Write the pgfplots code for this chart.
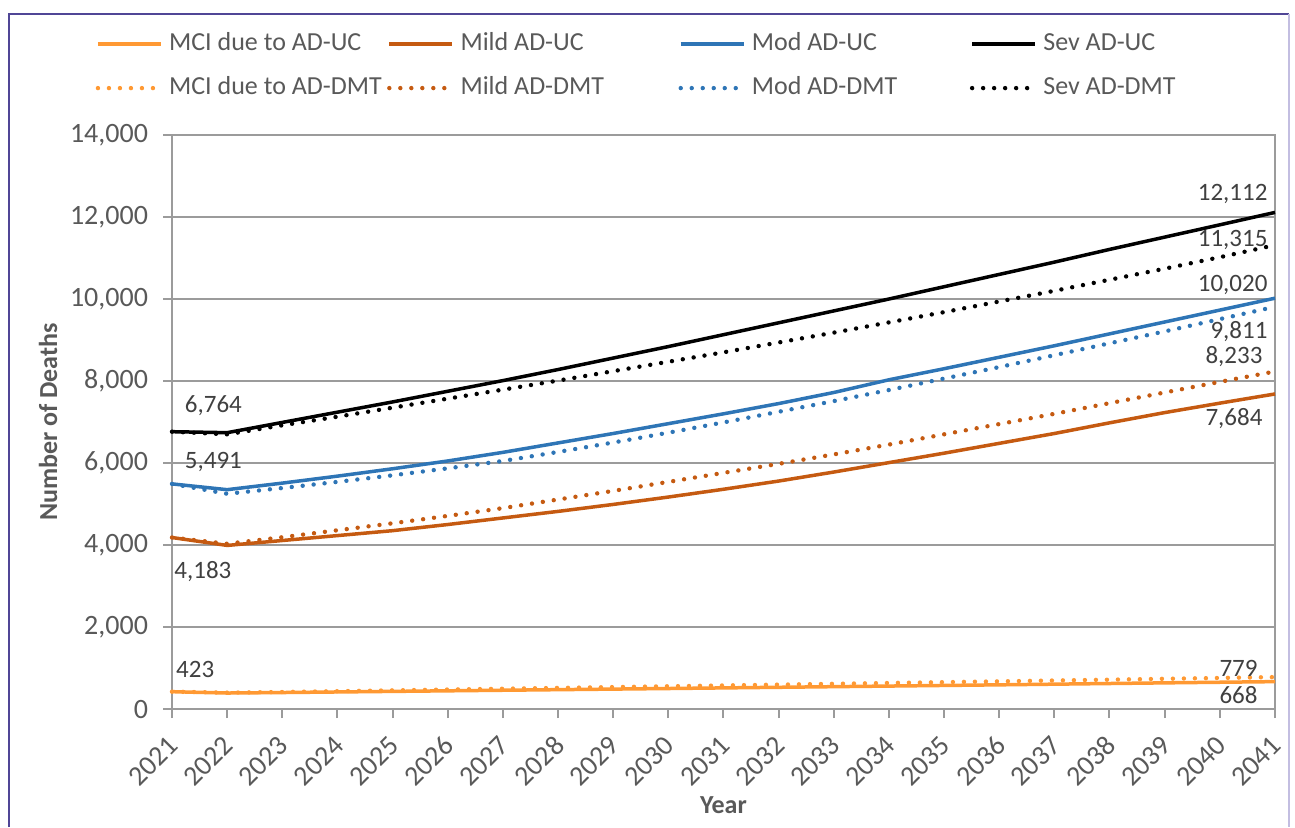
\documentclass[border=0pt]{standalone}
\usepackage{fontspec}
\setmainfont{Carlito}
\usepackage{pgfplots}
\usepackage{pgfplotstable}
\pgfplotsset{compat=1.18}
\definecolor{mci}{RGB}{255,153,51}
\definecolor{mild}{RGB}{197,90,17}
\definecolor{mod}{RGB}{46,117,182}
\definecolor{sev}{RGB}{0,0,0}
\definecolor{txtgray}{RGB}{89,89,89}
\definecolor{lblgray}{RGB}{64,64,64}
\definecolor{gridgray}{RGB}{155,155,155}
\definecolor{framec}{RGB}{80,70,150}
\definecolor{framel}{RGB}{195,190,225}
\pgfplotstableread{
year mciuc milduc moduc sevuc mcidmt milddmt moddmt sevdmt
2021 423 4183 5491 6764 423 4183 5491 6764
2022 390 3990 5350 6740 400 4030 5250 6700
2023 402 4110 5510 6990 415 4190 5390 6920
2024 416 4230 5680 7240 435 4360 5540 7130
2025 430 4350 5860 7490 455 4530 5700 7350
2026 444 4500 6050 7750 475 4710 5870 7570
2027 458 4660 6260 8010 495 4900 6050 7790
2028 472 4820 6490 8280 515 5110 6270 8010
2029 486 4990 6720 8560 535 5320 6500 8240
2030 500 5170 6960 8840 555 5540 6740 8470
2031 515 5360 7200 9130 575 5760 6990 8700
2032 530 5560 7450 9420 595 5980 7250 8940
2033 545 5780 7720 9710 615 6210 7510 9180
2034 560 6010 8030 10000 635 6450 7780 9430
2035 575 6240 8300 10300 655 6700 8060 9680
2036 590 6480 8580 10600 675 6950 8340 9940
2037 606 6720 8860 10900 696 7200 8630 10200
2038 622 6980 9150 11210 716 7460 8920 10470
2039 638 7230 9440 11510 737 7720 9210 10740
2040 653 7460 9730 11810 758 7980 9510 11020
2041 668 7684 10020 12112 779 8233 9811 11315
}\datatable
\newcommand{\legtxt}[1]{\hspace{3pt}\makebox[109pt][l]{#1}}
\begin{document}
\begin{tikzpicture}
\useasboundingbox (0pt,0pt) rectangle (647.5pt,-413.5pt);
\draw[framec, line width=0.6pt] (4.5pt,-413.5pt) -- (4.5pt,-7pt) -- (644.5pt,-7pt);
\draw[framel, line width=0.6pt] (644.5pt,-7pt) -- (644.5pt,-413.5pt);
\begin{axis}[
  at={(86pt,-354.5pt)}, anchor=south west,
  width=551.5pt, height=287pt, scale only axis,
  xmin=2021, xmax=2041, ymin=0, ymax=14000,
  xtick={2021,...,2041}, ytick={0,2000,...,14000},
  xticklabels={},
  xtick pos=bottom, ytick pos=left, tick align=outside,
  major tick length=4.5pt,
  every tick/.style={gridgray, line width=1pt},
  axis line style={gridgray, line width=1pt},
  ymajorgrids, grid style={gridgray, line width=1pt},
  /pgf/number format/assume math mode=true,
  y tick label style={/pgf/number format/1000 sep={,}, xshift=-4pt, font=\fontsize{14}{16}\selectfont, text=txtgray},
  scaled y ticks=false,
  xlabel={\textbf{Year}}, ylabel={\textbf{Number of Deaths}},
  xlabel style={at={(axis description cs:0.5,-0.167)}, anchor=center, font=\fontsize{13}{15}\selectfont, text=txtgray},
  ylabel style={at={(axis description cs:-0.1124,0.5)}, anchor=center, font=\fontsize{13}{15}\selectfont, text=txtgray},
  legend columns=4,
  legend cell align=left,
  legend style={draw=none, fill=none, at={(axis description cs:-0.0695,1.180)}, anchor=north west,
    font=\fontsize{13}{15}\selectfont, text=txtgray, inner sep=0pt,
    /tikz/column sep=0pt, /tikz/row sep=10pt,
    nodes={inner sep=0pt, text height=9pt, text depth=3pt}},
  legend image code/.code={\draw[#1] (0pt,0pt) -- (31.5pt,0pt);},
  clip=false,
  solidl/.style={line width=1.75pt},
  dotl/.style={line width=2.2pt, line cap=round, dash pattern=on 0pt off 5.5pt},
]
\addplot[solidl, mci] table[x=year,y=mciuc]{\datatable};
\addlegendentry{\legtxt{MCI due to AD-UC}}
\addplot[solidl, mild] table[x=year,y=milduc]{\datatable};
\addlegendentry{\legtxt{Mild AD-UC}}
\addplot[solidl, mod] table[x=year,y=moduc]{\datatable};
\addlegendentry{\legtxt{Mod AD-UC}}
\addplot[solidl, sev] table[x=year,y=sevuc]{\datatable};
\addlegendentry{\legtxt{Sev AD-UC}}
\addplot[dotl, mci] table[x=year,y=mcidmt]{\datatable};
\addlegendentry{\legtxt{MCI due to AD-DMT}}
\addplot[dotl, mild] table[x=year,y=milddmt]{\datatable};
\addlegendentry{\legtxt{Mild AD-DMT}}
\addplot[dotl, mod] table[x=year,y=moddmt]{\datatable};
\addlegendentry{\legtxt{Mod AD-DMT}}
\addplot[dotl, sev] table[x=year,y=sevdmt]{\datatable};
\addlegendentry{\legtxt{Sev AD-DMT}}
\pgfplotsinvokeforeach{2021,2022,2023,2024,2025,2026,2027,2028,2029,2030,2031,2032,2033,2034,2035,2036,2037,2038,2039,2040,2041}{
  \node[rotate=45, anchor=east, inner sep=1pt, font=\fontsize{14}{16}\selectfont, text=txtgray] at ([xshift=1.5pt,yshift=-15pt]axis cs:#1,0) {#1};
}
\begin{scope}[every node/.style={font=\fontsize{12.5}{14}\selectfont, text=lblgray, inner sep=0pt}]
\node at (axis cs:2021.75,7410) {6,764};
\node at (axis cs:2021.75,6024) {5,491};
\node at (axis cs:2021.56,3341) {4,183};
\node at (axis cs:2021.42,976) {423};
\node[anchor=east] at (axis cs:2040.87,12561) {12,112};
\node[anchor=east] at (axis cs:2040.87,11439) {11,315};
\node[anchor=east] at (axis cs:2040.87,10341) {10,020};
\node[anchor=east] at (axis cs:2040.87,9195) {9,811};
\node[anchor=east] at (axis cs:2040.78,8585) {8,233};
\node[anchor=east] at (axis cs:2040.78,7073) {7,684};
\node[anchor=east] at (axis cs:2040.69,1000) {779};
\node[anchor=east] at (axis cs:2040.69,341) {668};
\end{scope}
\end{axis}
\end{tikzpicture}
\end{document}
